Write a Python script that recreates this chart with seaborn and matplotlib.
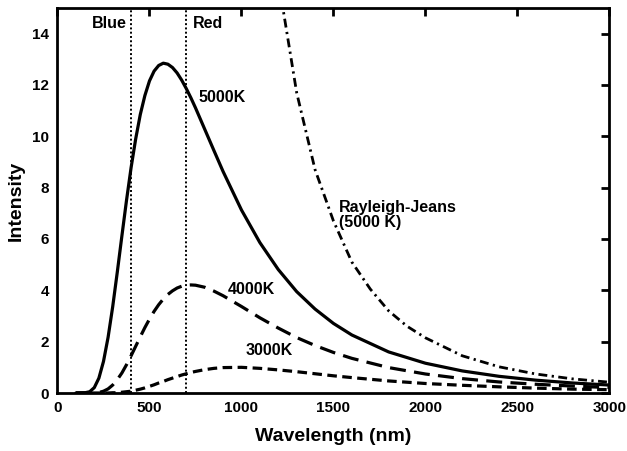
import matplotlib
matplotlib.use("Agg")
import matplotlib.pyplot as plt
import seaborn as sns
import pandas as pd

sns.set_theme(style="white")
plt.rcParams['font.family'] = ['Liberation Sans', 'DejaVu Sans']
plt.rcParams['font.weight'] = 'bold'
plt.rcParams['text.color'] = 'black'
plt.rcParams['axes.labelcolor'] = 'black'
plt.rcParams['xtick.color'] = 'black'
plt.rcParams['ytick.color'] = 'black'

# wavelength samples (nm)
wl = [100, 150, 175, 200, 225, 250, 275, 300, 325, 350, 375, 400, 425, 450, 475,
      500, 525, 550, 575, 600, 625, 650, 675, 700, 725, 750, 800, 850, 900, 1000,
      1100, 1200, 1300, 1400, 1500, 1600, 1800, 2000, 2200, 2400, 2600, 2800, 3000]
t5000 = [0.0, 0.01, 0.05, 0.21, 0.58, 1.23, 2.17, 3.36, 4.71, 6.12, 7.50, 8.78, 9.90,
         10.85, 11.59, 12.16, 12.54, 12.76, 12.85, 12.81, 12.68, 12.47, 12.19, 11.86,
         11.50, 11.11, 10.28, 9.45, 8.63, 7.13, 5.86, 4.81, 3.95, 3.27, 2.71, 2.26,
         1.60, 1.16, 0.86, 0.65, 0.50, 0.39, 0.31]
t4000 = [0.0, 0.0, 0.0, 0.01, 0.02, 0.07, 0.16, 0.31, 0.52, 0.78, 1.10, 1.45, 1.82,
         2.19, 2.55, 2.88, 3.18, 3.44, 3.66, 3.84, 3.98, 4.09, 4.16, 4.20, 4.21, 4.20,
         4.12, 3.97, 3.79, 3.37, 2.93, 2.53, 2.16, 1.85, 1.58, 1.35, 0.99, 0.74, 0.56,
         0.43, 0.34, 0.27, 0.21]
t3000 = [0.0, 0.0, 0.0, 0.0, 0.0, 0.0, 0.0, 0.01, 0.01, 0.03, 0.05, 0.07, 0.11, 0.15,
         0.20, 0.26, 0.32, 0.39, 0.45, 0.52, 0.58, 0.64, 0.70, 0.75, 0.80, 0.84, 0.91,
         0.96, 0.99, 1.00, 0.96, 0.90, 0.83, 0.75, 0.67, 0.60, 0.47, 0.37, 0.30, 0.24,
         0.19, 0.15, 0.13]
rj_wl = [1200, 1300, 1400, 1500, 1600, 1700, 1800, 1900, 2000, 2200, 2400, 2600, 2800, 3000]
rj_5000 = [16.1, 11.7, 8.7, 6.7, 5.1, 4.05, 3.2, 2.6, 2.15, 1.45, 1.02, 0.74, 0.55, 0.42]

blue_line = 400
red_line = 700

fig = plt.figure(figsize=(6.27, 4.51), dpi=100)
ax = fig.add_axes([0.0917, 0.1286, 0.8803, 0.8537])

df = pd.DataFrame({"wl": wl, "t5000": t5000, "t4000": t4000, "t3000": t3000})
dfrj = pd.DataFrame({"wl": rj_wl, "rj": rj_5000})

lw = 2.3
sns.lineplot(data=df, x="wl", y="t5000", ax=ax, color="black", lw=lw)
sns.lineplot(data=df, x="wl", y="t4000", ax=ax, color="black", lw=lw, dashes=(5.0, 2.6))
sns.lineplot(data=df, x="wl", y="t3000", ax=ax, color="black", lw=lw, dashes=(3.0, 1.7))
sns.lineplot(data=dfrj, x="wl", y="rj", ax=ax, color="black", lw=2.0,
             dashes=(3.2, 1.6, 0.8, 1.6))

ax.axvline(blue_line, color="black", lw=1.4, ls=(0, (1, 1.2)))
ax.axvline(red_line, color="black", lw=1.4, ls=(0, (1, 1.2)))

ax.set_xlim(0, 3000)
ax.set_ylim(0, 15)
ax.set_xticks([0, 500, 1000, 1500, 2000, 2500, 3000])
ax.set_yticks([0, 2, 4, 6, 8, 10, 12, 14])
ax.tick_params(direction="in", length=6, width=2, top=True, right=True,
               labelsize=11, pad=6, colors="black")
for lab in ax.get_xticklabels() + ax.get_yticklabels():
    lab.set_fontweight("bold")
for s in ax.spines.values():
    s.set_linewidth(2)
    s.set_color("black")

ax.set_xlabel("Wavelength (nm)", fontsize=14, fontweight="bold", labelpad=9)
ax.set_ylabel("Intensity", fontsize=14, fontweight="bold", labelpad=5)

fs = 11.5
ax.text(375, 14.4, "Blue", ha="right", va="center", fontsize=fs, fontweight="bold")
ax.text(735, 14.4, "Red", ha="left", va="center", fontsize=fs, fontweight="bold")
ax.text(769, 11.5, "5000K", ha="left", va="center", fontsize=fs, fontweight="bold")
ax.text(925, 4.05, "4000K", ha="left", va="center", fontsize=fs, fontweight="bold")
ax.text(1020, 1.65, "3000K", ha="left", va="center", fontsize=fs, fontweight="bold")
ax.text(1530, 6.95, "Rayleigh-Jeans\n(5000 K)", ha="left", va="center", fontsize=fs,
        fontweight="bold", linespacing=1.0)

fig.savefig("out.png", dpi=100)
